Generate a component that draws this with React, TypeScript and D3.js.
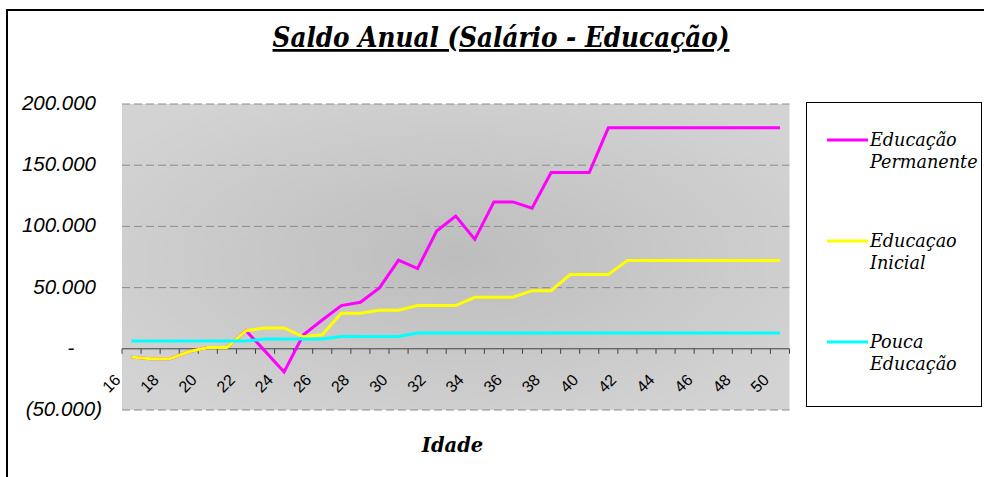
import * as d3 from 'd3';

const ages = [
  16, 17, 18, 19, 20, 21, 22, 23, 24, 25, 26, 27, 28, 29, 30, 31, 32, 33,
  34, 35, 36, 37, 38, 39, 40, 41, 42, 43, 44, 45, 46, 47, 48, 49, 50,
];

const permanente = [
  -6800, -8200, -8200, -2400, 1100, 1100, 14800, -1900, -18900, 11200, 23500,
  35300, 38000, 49700, 72400, 65600, 96200, 108500, 89400, 120000, 120000,
  114800, 144000, 144000, 144000, 180500, 180500, 180500, 180500, 180500,
  180500, 180500, 180500, 180500, 180500,
];

const inicial = [
  -6800, -8200, -8200, -2400, 1100, 1100, 14800, 17000, 17000, 9800, 11500,
  29000, 29000, 31500, 31500, 35300, 35300, 35300, 42100, 42100, 42100, 47500,
  47500, 60700, 60700, 60700, 72100, 72100, 72100, 72100, 72100, 72100, 72100,
  72100, 72100,
];

const pouca = [
  6300, 6300, 6300, 6300, 6300, 6300, 6300, 8000, 8000, 8000, 8000, 10100,
  10100, 10100, 10100, 12900, 12900, 12900, 12900, 12900, 12900, 12900, 12900,
  12900, 12900, 12900, 12900, 12900, 12900, 12900, 12900, 12900, 12900, 12900,
  12900,
];

const series = [
  { name: ['Educação', 'Permanente'], color: '#ff00ff', values: permanente },
  { name: ['Educaçao', 'Inicial'], color: '#ffff00', values: inicial },
  { name: ['Pouca', 'Educação'], color: '#00ffff', values: pouca },
];

const yTicks = [-50000, 0, 50000, 100000, 150000, 200000];
const xLabels = [16, 18, 20, 22, 24, 26, 28, 30, 32, 34, 36, 38, 40, 42, 44, 46, 48, 50];

const W = 984;
const H = 477;
const plot = { left: 122, right: 789.5, top: 104, bottom: 410 };

const serif = '"DejaVu Serif", serif';
const serifCond = '"DejaVu Serif Condensed", "DejaVu Serif", serif';
const sans = '"Liberation Sans", Arial, sans-serif';

function fmt(v: number) {
  if (v === 0) return '-';
  const s = d3.format(',')(Math.abs(v)).replace(/,/g, '.');
  return v < 0 ? `(${s})` : s;
}

export default function App() {
  const x = d3.scaleBand<number>(ages, [plot.left, plot.right]);
  const bw = x.bandwidth();
  const cx = (a: number) => (x(a) ?? 0) + bw / 2;
  const y = d3.scaleLinear([-50000, 200000], [plot.bottom, plot.top]);

  const line = d3
    .line<number>()
    .x((_, i) => cx(ages[i]))
    .y((d) => y(d));

  const tickXs = ages.map((a) => x(a) ?? 0).concat([plot.right]);

  return (
    <svg
      width={W}
      height={H}
      style={{ position: 'absolute', left: 0, top: 0, background: '#fff' }}>
      <defs>
        <radialGradient id='bg' cx='0.5' cy='0.5' r='0.62'>
          <stop offset='0' stopColor='#bdbdbd' />
          <stop offset='1' stopColor='#d3d3d3' />
        </radialGradient>
      </defs>
      <rect x={7} y={10} width={1000} height={500} fill='#fff' stroke='#000' strokeWidth={2} />

      <text
        x={501}
        y={47}
        textAnchor='middle'
        fontFamily={serifCond}
        fontStyle='italic'
        fontWeight='bold'
        fontSize={27.5}
        textDecoration='underline'>
        Saldo Anual (Salário - Educação)
      </text>

      <rect
        x={plot.left}
        y={plot.top}
        width={plot.right - plot.left}
        height={plot.bottom - plot.top}
        fill='url(#bg)'
      />

      {yTicks
        .filter((t) => t !== 0)
        .map((t) => (
          <line
            key={t}
            x1={plot.left}
            x2={plot.right}
            y1={y(t)}
            y2={y(t)}
            stroke='#8c8c8c'
            strokeWidth={1}
            strokeDasharray='8,4'
          />
        ))}

      <line x1={plot.left} x2={plot.right} y1={y(0)} y2={y(0)} stroke='#404040' strokeWidth={1} />
      {tickXs.map((tx, i) => (
        <line key={i} x1={tx} x2={tx} y1={y(0)} y2={y(0) + 5} stroke='#404040' strokeWidth={1} />
      ))}

      {yTicks.map((t) => (
        <text
          key={t}
          x={t === 0 ? 71 : t < 0 ? 102 : 96}
          y={y(t) + 6}
          textAnchor={t === 0 ? 'middle' : 'end'}
          fontFamily={sans}
          fontStyle='italic'
          fontSize={20.5}
          fill='#000'>
          {fmt(t)}
        </text>
      ))}

      {xLabels.map((a) => {
        const px = cx(a) - 10;
        const py = 381;
        return (
          <text
            key={a}
            x={px}
            y={py}
            textAnchor='end'
            transform={`rotate(-45 ${px} ${py})`}
            fontFamily={sans}
            fontSize={16}
            fill='#000'>
            {a}
          </text>
        );
      })}

      {series.map((s) => (
        <path
          key={s.color}
          d={line(s.values) ?? ''}
          fill='none'
          stroke={s.color}
          strokeWidth={3}
          strokeLinejoin='miter'
        />
      ))}

      <text
        x={452.5}
        y={451.5}
        textAnchor='middle'
        fontFamily={serif}
        fontStyle='italic'
        fontWeight='bold'
        fontSize={19.5}>
        Idade
      </text>

      <rect x={806.5} y={102.5} width={175} height={304} fill='#fff' stroke='#000' strokeWidth={1} />
      {series.map((s, i) => {
        const ly = 140 + i * 101;
        return (
          <g key={s.color}>
            <line x1={827} x2={868} y1={ly} y2={ly} stroke={s.color} strokeWidth={3} />
            {s.name.map((n, j) => (
              <text
                key={j}
                x={870}
                y={ly + 6 + j * 22}
                fontFamily={serif}
                fontStyle='italic'
                fontSize={17.6}
                fill='#000'>
                {n}
              </text>
            ))}
          </g>
        );
      })}
    </svg>
  );
}
